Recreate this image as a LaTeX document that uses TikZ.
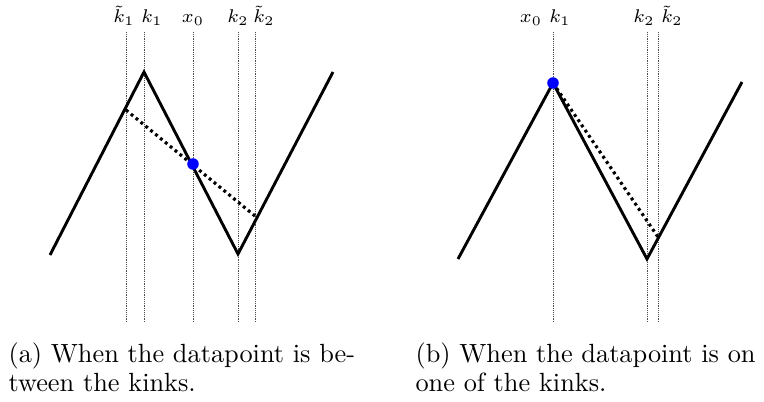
\documentclass[tikz,border=0pt]{standalone}
\usepackage{tikz}
\usetikzlibrary{positioning}
\definecolor{dotblue}{HTML}{0000FF}
\tikzset{
  guide/.style={line width=0.3pt, color=black!70, dash pattern=on 0.35pt off 0.35pt},
  zigzag/.style={line width=1.1pt, line join=miter},
  chord/.style={line width=1.2pt, dash pattern=on 1.1pt off 1.3pt},
  datapt/.style={circle, fill=dotblue, inner sep=0pt, minimum size=4.4pt},
  lbl/.style={anchor=base, inner sep=0pt, font=\fontsize{7}{8}\selectfont},
  captext/.style={anchor=base west, inner sep=0pt, align=left, font=\fontsize{10}{11}\selectfont}
}

\begin{document}
\begin{tikzpicture}[x=0.38pt, y=-0.38pt]
\useasboundingbox (0,0) rectangle (764,402);
% (a) datapoint between the kinks
\foreach \n/\x in {ta/126, ka/144, xa/193, kb/238, tb/255} {
  \coordinate (\n top) at (\x,32);
  \coordinate (\n bot) at (\x,323);
  \draw[guide] (\n top) -- (\n bot);
}
\node[lbl] (lta) at (124,23) {$\tilde{k}_1$};
\node[lbl] (lka) at (152,23) {$k_1$};
\node[lbl] (lxa) at (193,23) {$x_0$};
\node[lbl] (lkb) at (238,23) {$k_2$};
\node[lbl] (ltb) at (264,23) {$\tilde{k}_2$};
\coordinate (a0) at (50,255);
\coordinate (a1) at (144,72);
\coordinate (a2) at (238,254);
\coordinate (a3) at (333,72);
\draw[zigzag] (a0) -- (a1) -- (a2) -- (a3);
\coordinate (ca) at (126,110);
\coordinate (cb) at (255,216);
\draw[chord] (ca) -- (cb);
\node[datapt] (pa) at (193,164) {};
\node[captext] (capa) at (8,391) {(a) When the datapoint is be-\\tween the kinks.};
% (b) datapoint on one of the kinks
\foreach \n/\x in {kc/553, kd/647, td/658} {
  \coordinate (\n top) at (\x,32);
  \coordinate (\n bot) at (\x,323);
  \draw[guide] (\n top) -- (\n bot);
}
\node[lbl] (lxc) at (531,23) {$x_0$};
\node[lbl] (lkc) at (560,23) {$k_1$};
\node[lbl] (lkd) at (644,23) {$k_2$};
\node[lbl] (ltd) at (672,23) {$\tilde{k}_2$};
\coordinate (b0) at (458,259);
\coordinate (b1) at (553,83);
\coordinate (b2) at (647,259);
\coordinate (b3) at (742,82);
\draw[zigzag] (b0) -- (b1) -- (b2) -- (b3);
\coordinate (cd) at (658,237);
\draw[chord] (b1) -- (cd);
\node[datapt] (pb) at (b1) {};
\node[captext] (capb) at (415,391) {(b) When the datapoint is on\\one of the kinks.};
\end{tikzpicture}
\end{document}
